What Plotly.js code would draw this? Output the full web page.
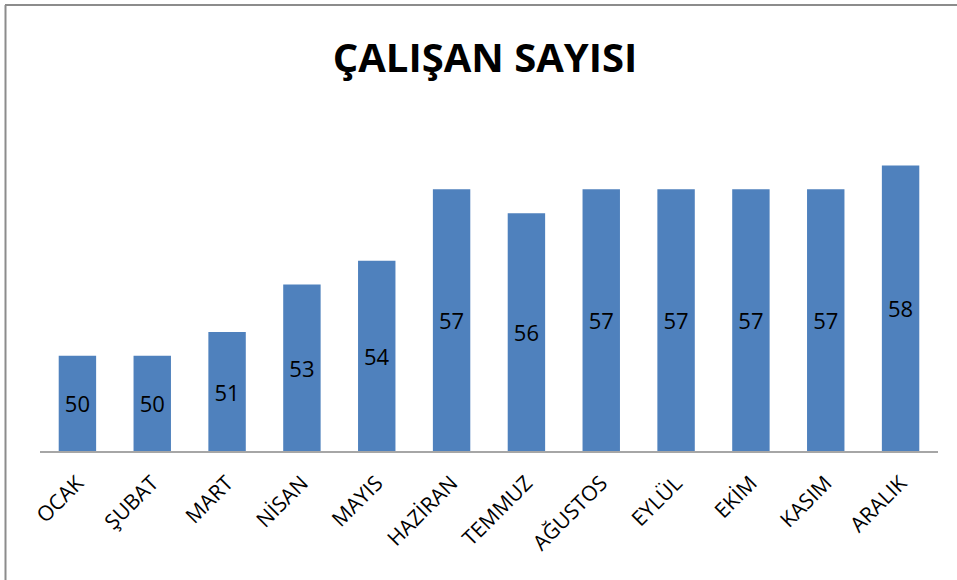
<!DOCTYPE html>
<html>
<head>
<meta charset="utf-8">
<script src="https://cdn.plot.ly/plotly-3.0.1.min.js"></script>
<style>
html,body{margin:0;padding:0;background:#fff;}
#chart{width:957px;height:580px;}
</style>
</head>
<body>
<div id="chart"></div>
<script>
const months = ["OCAK","ŞUBAT","MART","NİSAN","MAYIS","HAZİRAN","TEMMUZ","AĞUSTOS","EYLÜL","EKİM","KASIM","ARALIK"];
const employees = [50,50,51,53,54,57,56,57,57,57,57,58];
const chartTitle = "ÇALIŞAN SAYISI";
const axisMin = 46;

const trace = {
  type: "bar",
  x: months,
  y: employees.map(v => v - axisMin),
  base: axisMin,
  marker: {color: "#4F81BD", line: {width: 0}},
  text: employees.map(String),
  textposition: "inside",
  insidetextanchor: "middle",
  textangle: 0,
  textfont: {family: "Open Sans, sans-serif", size: 22, color: "#000"},
  hoverinfo: "none"
};

const layout = {
  width: 957, height: 580,
  margin: {l: 40, r: 19, t: 118, b: 129},
  paper_bgcolor: "#fff", plot_bgcolor: "#fff",
  bargap: 0.5,
  showlegend: false,
  title: {
    text: "<b>" + chartTitle + "</b>",
    font: {family: "Liberation Sans Narrow, Open Sans, sans-serif", size: 40, color: "#000"},
    x: 485/957, xanchor: "center", y: 1 - 58/580, yanchor: "middle", yref: "container"
  },
  xaxis: {
    type: "category",
    showline: true, linecolor: "#A6A6A6", linewidth: 1.5,
    showgrid: false, zeroline: false, ticks: "",
    tickangle: -45,
    ticklabelstandoff: 10,
    tickfont: {family: "Open Sans, sans-serif", size: 21, color: "#000"},
    fixedrange: true
  },
  yaxis: {
    range: [axisMin, 60],
    visible: false,
    showgrid: false, zeroline: false,
    fixedrange: true
  },
  shapes: [
    {type: "line", xref: "paper", yref: "paper",
     x0: (5.5-40)/898, x1: (5.5-40)/898, y0: (451-5)/333, y1: (451-600)/333,
     line: {color: "#8C8C8C", width: 2}},
    {type: "line", xref: "paper", yref: "paper",
     x0: (5-40)/898, x1: (990-40)/898, y0: (451-5)/333, y1: (451-5)/333,
     line: {color: "#8C8C8C", width: 2}}
  ]
};

Plotly.newPlot("chart", [trace], layout, {displayModeBar: false, staticPlot: true});
</script>
</body>
</html>
